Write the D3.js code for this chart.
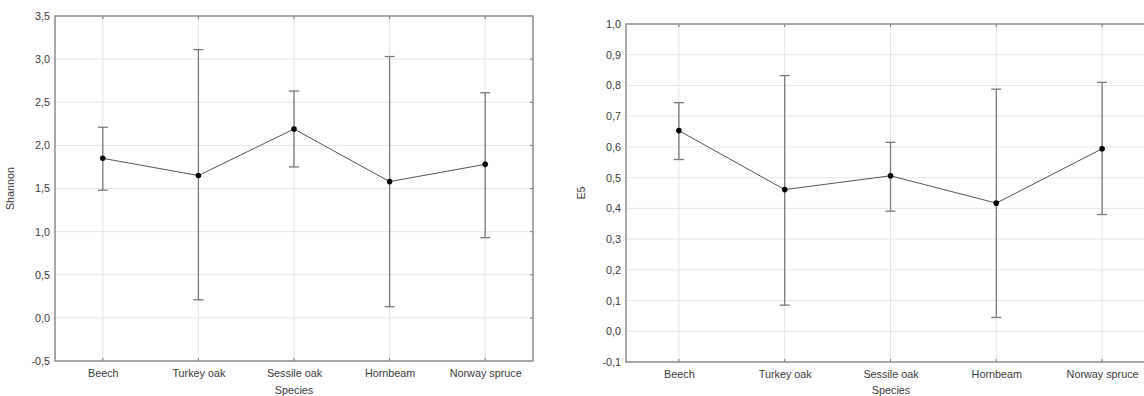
<!DOCTYPE html>
<html>
<head>
<meta charset="utf-8">
<script src="https://cdnjs.cloudflare.com/ajax/libs/d3/7.8.5/d3.min.js"></script>
<style>
  body { margin: 0; background: #fff; }
  svg { display: block; }
</style>
</head>
<body>
<svg id="chart" width="1144" height="396"></svg>
<script>
const species = ['Beech', 'Turkey oak', 'Sessile oak', 'Hornbeam', 'Norway spruce'];

// Shannon index: mean and interval ends
const shannonMean  = [1.85, 1.65, 2.19, 1.58, 1.78];
const shannonLow   = [1.48, 0.21, 1.75, 0.13, 0.93];
const shannonHigh  = [2.21, 3.11, 2.63, 3.03, 2.61];
const shannonTicks = [-0.5, 0, 0.5, 1, 1.5, 2, 2.5, 3, 3.5];

// E5 evenness: mean and interval ends
const e5Mean  = [0.653, 0.461, 0.506, 0.417, 0.594];
const e5Low   = [0.559, 0.085, 0.391, 0.045, 0.38];
const e5High  = [0.744, 0.832, 0.615, 0.788, 0.81];
const e5Ticks = [-0.1, 0, 0.1, 0.2, 0.3, 0.4, 0.5, 0.6, 0.7, 0.8, 0.9, 1.0];

const svg = d3.select('#chart');
const fmt = d => d3.format('.1f')(d).replace('.', ',').replace('−', '-');

function drawPanel(opt) {
  const { left, right, top, bottom, mean, low, high, ticks, ylabel, labelX } = opt;

  const x = d3.scalePoint().domain(species).range([left, right]).padding(0.5);
  const y = d3.scaleLinear().domain([ticks[0], ticks[ticks.length - 1]]).range([bottom, top]);

  const g = svg.append('g');

  // grid
  g.selectAll('.hgrid').data(ticks.slice(1, -1)).enter().append('line')
    .attr('x1', left).attr('x2', right)
    .attr('y1', d => y(d)).attr('y2', d => y(d))
    .attr('stroke', '#e6e6e6').attr('stroke-width', 1);
  g.selectAll('.vgrid').data(species).enter().append('line')
    .attr('x1', d => x(d)).attr('x2', d => x(d))
    .attr('y1', top).attr('y2', bottom)
    .attr('stroke', '#e6e6e6').attr('stroke-width', 1);

  // axes
  g.append('g')
    .attr('transform', 'translate(' + left + ',0)')
    .call(d3.axisLeft(y).tickValues(ticks).tickFormat(fmt).tickSize(0).tickPadding(5));
  g.append('g')
    .attr('transform', 'translate(0,' + bottom + ')')
    .call(d3.axisBottom(x).tickSize(0).tickPadding(8));

  // inner tick marks on right, top and bottom border
  g.selectAll('.rtick').data(ticks.slice(1, -1)).enter().append('line')
    .attr('x1', right - 3).attr('x2', right)
    .attr('y1', d => y(d)).attr('y2', d => y(d))
    .attr('stroke', '#777');
  g.selectAll('.ttick').data(species).enter().append('line')
    .attr('x1', d => x(d)).attr('x2', d => x(d))
    .attr('y1', top).attr('y2', top + 3)
    .attr('stroke', '#777');
  g.selectAll('.btick').data(species).enter().append('line')
    .attr('x1', d => x(d)).attr('x2', d => x(d))
    .attr('y1', bottom - 3).attr('y2', bottom)
    .attr('stroke', '#777');

  // frame
  g.append('rect')
    .attr('x', left).attr('y', top)
    .attr('width', right - left).attr('height', bottom - top)
    .attr('fill', 'none').attr('stroke', '#8a8a8a').attr('stroke-width', 1.5);

  g.selectAll('.domain').remove();

  // error bars
  const bars = g.selectAll('.err').data(species).enter().append('g');
  bars.append('line')
    .attr('x1', d => x(d)).attr('x2', d => x(d))
    .attr('y1', (d, i) => y(low[i])).attr('y2', (d, i) => y(high[i]))
    .attr('stroke', '#7a7a7a').attr('stroke-width', 1.3);
  bars.append('line')
    .attr('x1', d => x(d) - 5).attr('x2', d => x(d) + 5)
    .attr('y1', (d, i) => y(high[i])).attr('y2', (d, i) => y(high[i]))
    .attr('stroke', '#7a7a7a').attr('stroke-width', 1.3);
  bars.append('line')
    .attr('x1', d => x(d) - 5).attr('x2', d => x(d) + 5)
    .attr('y1', (d, i) => y(low[i])).attr('y2', (d, i) => y(low[i]))
    .attr('stroke', '#7a7a7a').attr('stroke-width', 1.3);

  // mean line and points
  const line = d3.line().x((d, i) => x(species[i])).y(d => y(d));
  g.append('path').datum(mean)
    .attr('d', line)
    .attr('fill', 'none').attr('stroke', '#555').attr('stroke-width', 1);
  g.selectAll('.pt').data(mean).enter().append('circle')
    .attr('cx', (d, i) => x(species[i])).attr('cy', d => y(d))
    .attr('r', 2.8).attr('fill', '#000');

  // labels
  g.append('text')
    .attr('transform', 'translate(' + (left - 41) + ',' + ((top + bottom) / 2) + ') rotate(-90)')
    .attr('text-anchor', 'middle')
    .text(ylabel);
  g.append('text')
    .attr('x', labelX).attr('y', 394)
    .attr('text-anchor', 'middle')
    .text('Species');

  g.selectAll('text')
    .attr('fill', '#3a3a3a')
    .style('font', '10.8px "Liberation Sans", Arial, sans-serif');
}

drawPanel({
  left: 55, right: 533, top: 16, bottom: 361,
  mean: shannonMean, low: shannonLow, high: shannonHigh,
  ticks: shannonTicks, ylabel: 'Shannon', labelX: 294
});

drawPanel({
  left: 626, right: 1155, top: 24, bottom: 362,
  mean: e5Mean, low: e5Low, high: e5High,
  ticks: e5Ticks, ylabel: 'E5', labelX: 891
});
</script>
</body>
</html>
